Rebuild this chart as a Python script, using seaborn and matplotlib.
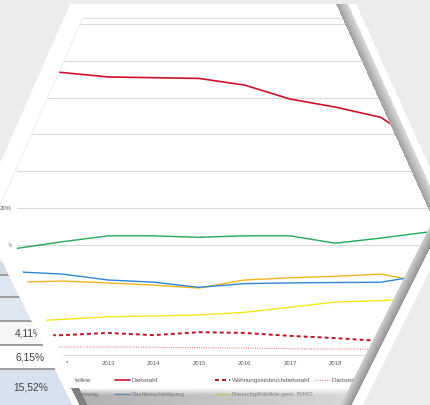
import numpy as np
import pandas as pd
import matplotlib
matplotlib.use("Agg")
import matplotlib.pyplot as plt
import seaborn as sns
from matplotlib.path import Path
from matplotlib.patches import Polygon
from matplotlib.colors import to_rgb

# ---------------- data ----------------
years = [2011, 2012, 2013, 2014, 2015, 2016, 2017, 2018, 2019, 2020]
betrug = [14.5, 15.4, 16.2, 16.2, 16.0, 16.2, 16.2, 15.2, 15.9, 16.7]
koerperverletzung = [9.9, 10.05, 9.8, 9.5, 9.1, 10.2, 10.5, 10.7, 11.0, 9.8]
diebstahl = [39.0, 38.4, 37.8, 37.7, 37.6, 36.7, 34.8, 33.7, 32.3, 28.1]
sachbeschaedigung = [11.3, 11.0, 10.2, 9.9, 9.2, 9.7, 9.8, 9.85, 9.9, 10.9]
wohnungseinbruch = [2.6, 2.7, 3.0, 2.7, 3.1, 3.0, 2.6, 2.3, 1.9, 1.6]
rauschgift = [4.5, 4.85, 5.2, 5.3, 5.45, 5.8, 6.5, 7.2, 7.4, 7.6]
kfz_diebstahl = [1.1, 1.1, 1.1, 1.05, 1.0, 0.95, 0.85, 0.8, 0.8, 0.8]

series_names = ["Betrugsdelikte", "Körperverletzung", "Diebstahl",
                "Sachbeschädigung", "Wohnungseinbruchdiebstahl",
                "Rauschgiftdelikte gem. BtMG", "Diebstahl von Kraftwagen"]
series_values = [betrug, koerperverletzung, diebstahl, sachbeschaedigung,
                 wohnungseinbruch, rauschgift, kfz_diebstahl]
series_colors = ["#1faa55", "#f5b51a", "#d0102a", "#2f86d6",
                 "#c0101f", "#f3e81a", "#ee7b7b"]

y_ticks = [0, 5, 10, 15, 20, 25, 30, 35, 40, 45]
y_tick_labels = [f"{v}%" for v in y_ticks]
x_tick_labels = ["2011", "2012", "2013", "2014", "2015", "2016", "2017", "2018", "2019", ""]
table_texts = ["4,11%", "6,15%", "15,52%"]

# ---------------- style ----------------
sns.set_style("white")
plt.rcParams["font.family"] = ["Liberation Sans", "DejaVu Sans"]

W, H = 430, 405
fig = plt.figure(figsize=(W / 100, H / 100), dpi=100)
fig.patch.set_facecolor("white")

# hexagon geometry (pixel space)
def ul(y): return 90.5 - 0.44 * y
def ll(y): return 0.49 * y - 111
def ur(y): return 342 + 0.45 * (y - 17)
def lr(y): return 427 - 0.5 * (y - 232)

inner_pts = [(ul(17), 17), (342, 17), (433.3, 219.6), (lr(412), 412),
             (ll(412), 412), (-4.8, 216.7)]
outer_pts = [(70.2, 4), (356.2, 4), (454, 221.7), (lr(412) + 22, 412),
             (ll(412) - 15, 412), (-21.7, 212.9)]

yy, xx = np.mgrid[0:H, 0:W] + 0.5
pts = np.c_[xx.ravel(), yy.ravel()]
in_outer = Path(outer_pts).contains_points(pts).reshape(H, W)
in_inner = Path(inner_pts).contains_points(pts).reshape(H, W)

# ---------------- mask layer 1: grey surround + table (above chart) ----------------
ax_m1 = fig.add_axes([0, 0, 1, 1], zorder=6)
ax_m1.set_xlim(0, W); ax_m1.set_ylim(H, 0); ax_m1.axis("off")
ax_m1.patch.set_alpha(0)
m1 = np.zeros((H, W, 4))
outside = ~in_outer
m1[outside, :3] = 0.929
m1[outside, 3] = 1.0
tab = (xx < ll(yy) - 15) & (yy >= 262)
row_bounds = [262, 275, 297, 321, 345, 369, 406]
row_cols = ["#d3dbe6", "#dde6f1", "#dfe7f2", "#f6f6f6", "#ffffff", "#d8e2ee"]
for (a, b), c in zip(zip(row_bounds[:-1], row_bounds[1:]), row_cols):
    m = tab & (yy >= a) & (yy < b)
    m1[m, :3] = to_rgb(c)
    m1[m, 3] = 1.0
for a in row_bounds[1:-1]:
    m = tab & (np.abs(yy - a) < 0.6)
    m1[m, :3] = 0.62
ax_m1.imshow(m1, extent=(0, W, H, 0), aspect="auto", interpolation="bilinear")
for txt, (tx, ty) in zip(table_texts, [(15, 334), (15, 357), (13, 387)]):
    ax_m1.text(tx, ty, txt, fontsize=7.4, color="#404040", va="center", ha="left")

clip_poly = Polygon(inner_pts, closed=True, transform=ax_m1.transData)

# ---------------- mask layer 2: white bevel band + shadows ----------------
ax_m2 = fig.add_axes([0, 0, 1, 1], zorder=7)
ax_m2.set_xlim(0, W); ax_m2.set_ylim(H, 0); ax_m2.axis("off")
ax_m2.patch.set_alpha(0)
m2 = np.zeros((H, W, 4))
band = in_outer & ~in_inner
m2[band, :3] = 1.0
m2[band, 3] = 1.0
# right upper shadow
t1 = (xx - ur(yy)) / 12.0
s1 = band & (t1 >= 0) & (t1 <= 1) & (yy <= 220)
lvl1 = 0.62 + 0.24 * t1
for k in range(3):
    m2[s1, k] = lvl1[s1]
# right lower shadow
t2 = (xx - lr(yy)) / 11.0
s2 = band & (t2 >= 0) & (t2 <= 1) & (yy > 219)
lvl2 = 0.82 - 0.25 * t2
for k in range(3):
    m2[s2, k] = lvl2[s2]
# bottom bevel band (semi transparent over the second legend row)
s3 = (xx > ll(yy) - 8) & (xx < lr(yy)) & (yy >= 388)
g = 0.50 + 0.25 * np.clip((xx - 75) / 270, 0, 1)
a3 = np.clip((yy - 388) / 7, 0, 1) * 0.62
for k in range(3):
    m2[s3, k] = g[s3]
m2[s3, 3] = np.maximum(m2[s3, 3], a3[s3])
ax_m2.imshow(m2, extent=(0, W, H, 0), aspect="auto", interpolation="bilinear")
ax_m2.plot([ul(17), 342], [17.5, 17.5], color="#e2e2e2", lw=0.8)
ax_m2.plot([ul(17), ul(205)], [17, 205], color="#eeeeee", lw=0.8)

# ---------------- chart ----------------
x0, x1 = 17, 426.5
y0, y1 = 355, 24
ax = fig.add_axes([x0 / W, 1 - y0 / H, (x1 - x0) / W, (y0 - y1) / H], zorder=1)
ax.patch.set_alpha(0)

df = pd.DataFrame({
    "Jahr": years * len(series_names),
    "Anteil": [v for vals in series_values for v in vals],
    "Delikt": [n for n in series_names for _ in years],
})
sns.lineplot(data=df, x="Jahr", y="Anteil", hue="Delikt", hue_order=series_names,
             palette=series_colors, legend=False, ax=ax, estimator=None, sort=False)

widths = [1.0, 1.0, 1.2, 1.0, 1.4, 1.0, 0.8]
handles = list(ax.lines)
for ln, w in zip(handles, widths):
    ln.set_linewidth(w)
    ln.set_clip_path(clip_poly)
handles[4].set_dashes([2.0, 1.6])
handles[6].set_dashes([0.9, 1.2])

ax.set_xlim(years[0], years[-1])
ax.set_ylim(y_ticks[0], y_ticks[-1])
ax.set_xticks(years)
ax.set_xticklabels(x_tick_labels)
ax.set_yticks(y_ticks)
ax.set_yticklabels(y_tick_labels)
ax.set_xlabel(""); ax.set_ylabel("")
for s in ["top", "left", "right"]:
    ax.spines[s].set_visible(False)
ax.spines["bottom"].set_color("#d9d9d9")
ax.spines["bottom"].set_linewidth(0.7)
ax.tick_params(axis="x", length=2.5, width=0.6, color="#bfbfbf",
               labelsize=4.3, labelcolor="#595959", pad=2)
ax.tick_params(axis="y", length=0, labelsize=4.3, labelcolor="#595959", pad=3.5)
ax.grid(axis="y", color="#d9d9d9", linewidth=0.8)
ax.grid(axis="x", visible=False)
for v, tk in zip(y_ticks, ax.yaxis.get_major_ticks()):
    if v < 15:
        tk.gridline.set_visible(False)

# ---------------- legend (Excel-like grid, 4 columns) ----------------
top = 1 - 377.5 / H
cols = [([0, 1], 99, "upper right"), ([2, 3], 115, "upper left"),
        ([4, 5], 215, "upper left"), ([6], 315, "upper left")]
for idx, xa, loc in cols:
    leg = fig.legend([handles[i] for i in idx], [series_names[i] for i in idx],
                     loc=loc, bbox_to_anchor=(xa / W, top), frameon=False,
                     fontsize=4.5, handlelength=2.4, handletextpad=0.25,
                     labelspacing=1.45, borderpad=0, borderaxespad=0)
    for t in leg.get_texts():
        t.set_color("#595959")

fig.savefig("out.png", dpi=100, facecolor=fig.get_facecolor())
